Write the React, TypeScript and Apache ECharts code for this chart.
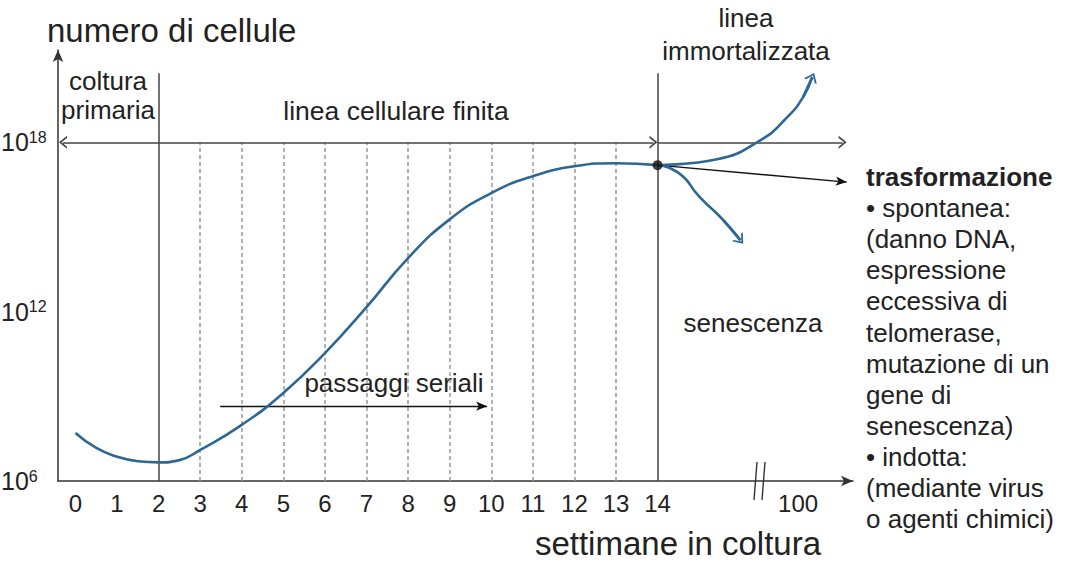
import React, { useEffect, useRef } from "react";
import * as echarts from "echarts";

// ---- data (weeks in culture, log10 of cell number) ----
const weeks = [0, 0.5, 1, 1.5, 2, 2.5, 3, 4, 5, 6, 7, 8, 9, 10, 11, 12, 13, 14];
const logCells = [7.7, 7.17, 6.86, 6.7, 6.66, 6.74, 7.1, 7.99, 9.12, 10.53, 12.16, 13.9, 15.27, 16.2, 16.8, 17.15, 17.26, 17.19];

const immortalWeeks = [14, 15.43, 16.47, 17.12, 17.5, 17.72];
const immortalLog = [17.19, 17.4, 18.07, 18.89, 19.6, 20.31];
const senescWeeks = [14, 14.47, 15.02, 15.58, 15.99];
const senescLog = [17.19, 16.95, 16.05, 15.24, 14.53];

const weekTicks = [0, 1, 2, 3, 4, 5, 6, 7, 8, 9, 10, 11, 12, 13, 14];
const farWeekLabel = "100";
const farWeekPos = 17.38;
const yTicks = [6, 12, 18];
const passageWeeks = [3, 4, 5, 6, 7, 8, 9, 10, 11, 12, 13];
const phaseBounds = [2, 14];
const rangeLevel = 18;
const phaseTop = 20.45;
const transformEnd = [18.55, 16.59];
const passageArrow = [3.48, 9.9, 8.65];

const rightLines = [
  "• spontanea:",
  "(danno DNA,",
  "espressione",
  "eccessiva di",
  "telomerase,",
  "mutazione di un",
  "gene di",
  "senescenza)",
  "• indotta:",
  "(mediante virus",
  "o agenti chimici)",
];

const FONT = '"Liberation Sans", Arial, sans-serif';
const BLUE = "#2d6794";
const INK = "#222";
const CHEVRON = "path://M0,10 L5,0 L10,10 L8.4,10 L5,3.2 L1.6,10 Z";

const pt = (x: number, y: number, symbol: string = "none", size: any = 10) => ({
  coord: [x, y],
  symbol,
  symbolSize: size,
});

const zip = (a: number[], b: number[]) => a.map((v, i) => [v, b[i]]);

const txt = (text: string, x: number, y: number, fontSize: number, align = "left", extra: any = {}) => ({
  type: "text",
  silent: true,
  style: {
    text,
    x,
    y,
    fill: INK,
    fontSize,
    fontFamily: FONT,
    align,
    verticalAlign: "middle",
    ...extra,
  },
});

const markBase = {
  silent: true,
  animation: false,
  symbol: ["none", "none"],
  label: { show: false },
  emphasis: { disabled: true },
};

function buildOption() {
  const iLast = immortalWeeks.length - 1;
  const sLast = senescWeeks.length - 1;
  return {
    animation: false,
    backgroundColor: "#fff",
    textStyle: { fontFamily: FONT },
    grid: { left: 58, right: 229, top: 50, bottom: 81, containLabel: false, outerBoundsMode: "none" },
    xAxis: {
      type: "value",
      min: -0.42,
      max: 18.7,
      axisLine: {
        show: true,
        onZero: false,
        symbol: ["none", "arrow"],
        symbolSize: [8, 12],
        lineStyle: { color: "#333", width: 1.5 },
      },
      axisTick: { show: false },
      splitLine: { show: false },
      axisLabel: {
        customValues: [...weekTicks, farWeekPos],
        formatter: (v: number) => (Math.abs(v - farWeekPos) < 1e-6 ? farWeekLabel : String(v)),
        fontSize: 24,
        color: INK,
        margin: 10,
        fontFamily: FONT,
      },
    },
    yAxis: {
      type: "value",
      min: 6,
      max: 21.27,
      axisLine: {
        show: true,
        onZero: false,
        symbol: ["none", "arrow"],
        symbolSize: [8, 12],
        lineStyle: { color: "#333", width: 1.5 },
      },
      axisTick: { show: false },
      splitLine: { show: false },
      axisLabel: {
        customValues: yTicks,
        align: "left",
        margin: 57,
        formatter: (v: number) => `{b|10}{s|${v}}`,
        rich: {
          b: { fontSize: 25, color: INK, fontFamily: FONT, lineHeight: 26 },
          s: { fontSize: 16, color: INK, fontFamily: FONT, verticalAlign: "top" },
        },
      },
    },
    series: [
      {
        type: "line",
        name: "dashed",
        data: [],
        silent: true,
        markLine: {
          ...markBase,
          lineStyle: { color: "#999", width: 1.5, type: [4, 3] },
          data: passageWeeks.map((w) => [pt(w, 6), pt(w, rangeLevel)]),
        },
      },
      {
        type: "line",
        name: "guides",
        data: [],
        silent: true,
        markLine: {
          ...markBase,
          lineStyle: { color: "#444", width: 1.5, type: "solid" },
          data: [
            ...phaseBounds.map((w) => [pt(w, 6), pt(w, phaseTop)]),
            [pt(-0.3, rangeLevel, CHEVRON, [13, 8]), pt(13.9, rangeLevel, CHEVRON, [13, 8])],
            [pt(14, rangeLevel), pt(18.45, rangeLevel, CHEVRON, [13, 8])],
          ],
        },
      },
      {
        type: "line",
        name: "arrows",
        data: [],
        silent: true,
        markLine: {
          ...markBase,
          lineStyle: { color: "#111", width: 1.4, type: "solid" },
          data: [
            [pt(14, 17.19), pt(transformEnd[0], transformEnd[1], "arrow", [7, 11])],
            [pt(passageArrow[0], passageArrow[2]), pt(passageArrow[1], passageArrow[2], "arrow", [7, 11])],
          ],
        },
      },
      {
        type: "line",
        name: "crescita",
        data: zip(weeks, logCells),
        smooth: 0.5,
        symbol: "none",
        silent: true,
        lineStyle: { color: BLUE, width: 2.6 },
        z: 5,
      },
      {
        type: "line",
        name: "immortalizzata",
        data: zip(immortalWeeks, immortalLog),
        smooth: 0.5,
        symbol: "none",
        silent: true,
        lineStyle: { color: BLUE, width: 2.6 },
        z: 5,
        markLine: {
          ...markBase,
          lineStyle: { color: BLUE, width: 2.6, type: "solid" },
          data: [
            [
              pt(immortalWeeks[iLast - 1], immortalLog[iLast - 1]),
              pt(immortalWeeks[iLast], immortalLog[iLast], CHEVRON, [14, 9]),
            ],
          ],
        },
      },
      {
        type: "line",
        name: "senescenza",
        data: zip(senescWeeks, senescLog),
        smooth: 0.6,
        symbol: "none",
        silent: true,
        lineStyle: { color: BLUE, width: 2.6 },
        z: 5,
        markLine: {
          ...markBase,
          lineStyle: { color: BLUE, width: 2.6, type: "solid" },
          data: [
            [
              pt(senescWeeks[sLast - 1], senescLog[sLast - 1]),
              pt(senescWeeks[sLast], senescLog[sLast], CHEVRON, [14, 9]),
            ],
          ],
        },
      },
      {
        type: "scatter",
        data: [[14, 17.19]],
        symbolSize: 10,
        silent: true,
        itemStyle: { color: "#111" },
        z: 10,
      },
    ],
    graphic: [
      txt("numero di cellule", 47, 30, 33),
      txt("coltura\nprimaria", 108, 95.7, 26, "center", { lineHeight: 29.5 }),
      txt("linea cellulare finita", 396, 110.5, 26.5, "center"),
      txt("linea\nimmortalizzata", 746, 34.3, 26, "center", { lineHeight: 33 }),
      txt("senescenza", 753, 322.6, 26, "center"),
      txt("passaggi seriali", 394, 382.6, 26, "center"),
      txt("settimane in coltura", 678, 543, 33, "center"),
      {
        type: "text",
        silent: true,
        style: {
          text: "{b|trasformazione}\n" + rightLines.join("\n"),
          x: 866,
          y: 161.5,
          fill: INK,
          fontSize: 26,
          fontFamily: FONT,
          lineHeight: 31.1,
          align: "left",
          verticalAlign: "top",
          rich: {
            b: { fontSize: 26, fontWeight: "bold", fontFamily: FONT, lineHeight: 31.1, fill: INK },
          },
        },
      },
      {
        type: "line",
        silent: true,
        shape: { x1: 754, y1: 500, x2: 757, y2: 462 },
        style: { stroke: "#333", lineWidth: 1.4 },
      },
      {
        type: "line",
        silent: true,
        shape: { x1: 762, y1: 500, x2: 765, y2: 462 },
        style: { stroke: "#333", lineWidth: 1.4 },
      },
    ],
  };
}

export default function App() {
  const ref = useRef<HTMLDivElement>(null);
  useEffect(() => {
    const chart = echarts.init(ref.current as HTMLDivElement, null, { renderer: "svg" });
    chart.setOption(buildOption() as any);
    return () => chart.dispose();
  }, []);
  return (
    <div
      ref={ref}
      style={{ position: "absolute", left: 0, top: 0, width: 1082, height: 562, background: "#fff" }}
    />
  );
}
